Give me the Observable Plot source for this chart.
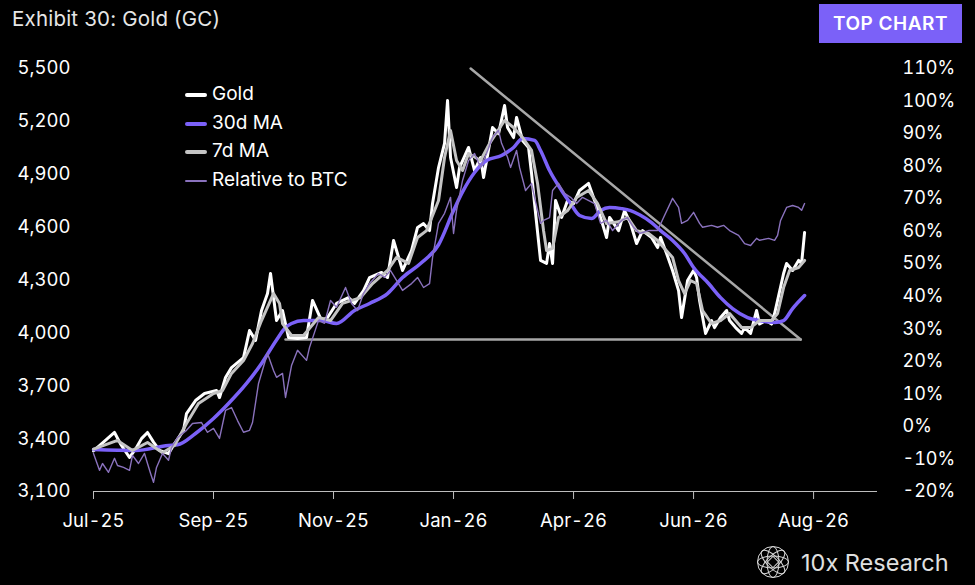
<!DOCTYPE html>
<html>
<head>
<meta charset="utf-8">
<script src="https://cdn.jsdelivr.net/npm/d3@7"></script>
<script src="https://cdn.jsdelivr.net/npm/@observablehq/plot@0.6"></script>
<style>
  html, body { margin: 0; padding: 0; background: #000; }
  #wrap { position: relative; width: 975px; height: 585px; background: #000; overflow: hidden; font-family: Inter, "Open Sans", sans-serif; color: #fff; }
  #wrap > svg { position: absolute; left: 0; top: 0; }
  .title { position: absolute; left: 12px; top: 6px; font-size: 20.5px; color: #e6e6e6; letter-spacing: 0.2px; }
  .badge { position: absolute; left: 819px; top: 4px; width: 143px; height: 39px; background: #7b61f8; color: #fff; font-size: 19px; font-weight: 600; line-height: 39px; text-align: center; letter-spacing: 0.5px; }
  .leg { position: absolute; left: 185px; font-size: 19px; color: #fff; height: 24px; line-height: 24px; white-space: nowrap; }
  .leg span.sw { display: inline-block; width: 22px; vertical-align: middle; margin-right: 5px; border-radius: 2px; }
  .logo { position: absolute; left: 756px; top: 545px; height: 34px; display: flex; align-items: center; color: #e0e0e0; font-size: 23.5px; }
  .logo svg { margin-right: 11px; }
</style>
</head>
<body>
<div id="wrap"></div>
<script>
// ---------- DATA ----------
const xTickDays = [0, 40, 80, 120, 160, 200, 240];
const xTickLabels = ["Jul-25", "Sep-25", "Nov-25", "Jan-26", "Apr-26", "Jun-26", "Aug-26"];
const leftTicks = [3100, 3400, 3700, 4000, 4300, 4600, 4900, 5200, 5500];
const rightTicks = [-20, -10, 0, 10, 20, 30, 40, 50, 60, 70, 80, 90, 100, 110];

const goldDay = [0,2,7,9,12,14,16,18,20,22,25,27,30,31,34,37,41,42,44,46,50,52,54,56,58,59,61,63,65,68,71,73,76,78,81,85,87,90,92,96,98,100,102,103,106,108,110,112,113,115,117,118,119,121,122,125,127,129,130,133,135,137,138,140,141,143,145,146,147,149,151,152,153,154,156,158,160,162,165,167,169,171,172,175,177,179,181,183,186,188,189,191,193,195,196,198,200,201,202,204,206,207,209,211,212,214,216,217,219,221,222,224,226,227,228,230,231,233,235,236,237];
const goldVal = [3330,3360,3435,3370,3293,3340,3400,3435,3380,3333,3315,3372,3446,3542,3616,3656,3673,3633,3747,3803,3860,4013,3957,4127,4223,4337,4070,4127,3974,3968,3974,4184,4070,4087,4167,4200,4167,4240,4314,4343,4314,4524,4411,4354,4467,4598,4620,4580,4734,4938,5075,5318,4995,4825,4938,5052,4921,4995,4882,5165,5130,5290,5165,5108,5222,5092,5052,4904,4734,4411,4394,4507,4394,4751,4655,4751,4734,4808,4848,4751,4655,4541,4655,4580,4694,4620,4507,4580,4541,4484,4541,4450,4354,4240,4087,4297,4354,4314,4184,3997,4070,4030,4087,4127,4070,4030,3997,4030,3997,4127,4050,4070,4050,4110,4184,4337,4394,4354,4411,4394,4570];

const ma7Day = [0,8,13,18,23,27,31,35,40,43,46,50,53,56,60,62,63,66,70,75,79,83,89,93,98,101,105,108,111,115,117,119,121,123,125,129,132,137,140,143,146,148,150,151,153,155,158,161,165,168,171,175,178,181,185,188,190,193,195,197,199,201,203,206,209,212,216,219,222,226,228,230,232,235,237];
const ma7Val = [3340,3390,3333,3378,3320,3361,3486,3599,3656,3673,3770,3843,3940,4070,4223,4167,4053,3985,3985,4087,4070,4167,4200,4280,4354,4428,4394,4541,4580,4751,4995,5148,4978,4921,5018,4978,5075,5205,5165,5108,5035,4848,4580,4467,4480,4655,4694,4768,4808,4734,4620,4630,4655,4580,4564,4524,4484,4428,4297,4223,4297,4280,4127,4053,4070,4110,4030,4030,4070,4070,4110,4257,4354,4371,4411];

const ma30Day = [0,14,25,28,34,40,45,51,56,61,64,66,70,76,81,87,92,98,103,109,115,120,123,127,131,136,140,143,147,149,152,156,159,162,166,169,172,176,179,182,186,189,193,197,200,205,209,213,218,222,227,230,233,237];
const ma30Val = [3338,3333,3361,3365,3429,3514,3599,3713,3826,3960,4030,4053,4070,4070,4053,4127,4167,4223,4314,4394,4500,4694,4800,4910,4978,5006,5052,5103,5092,5035,4921,4808,4734,4666,4649,4694,4711,4705,4694,4670,4626,4580,4524,4450,4371,4280,4200,4138,4087,4070,4059,4070,4138,4212];

// Relative to BTC, in percent (right axis)
const btcDay = [0,2,3,5,7,8,10,12,13,15,17,18,19,20,21,23,25,26,28,31,33,36,38,40,42,44,46,48,50,52,53,55,57,58,60,61,63,64,66,68,71,72,75,77,79,81,84,86,88,90,92,95,97,99,101,103,106,108,110,112,113,115,117,119,120,121,123,125,127,129,131,133,135,136,138,139,141,142,144,146,147,149,150,152,153,155,157,159,161,163,167,169,171,173,176,178,180,182,185,188,190,193,195,196,198,200,202,203,206,208,210,212,215,217,219,221,222,225,227,228,229,231,233,235,236,237];
const btcPct = [-8.3,-13.5,-11.4,-14.1,-9.8,-12.0,-12.6,-13.5,-8.9,-11.4,-8.3,-11.4,-14.4,-17.2,-12.6,-8.3,-10.4,-6.5,-3.4,-1.2,0.9,1.2,-1.8,-0.6,-3.7,4.9,5.8,1.8,-1.8,-1.2,1.2,13.2,19.4,22.4,17.2,15.1,16.3,8.9,18.7,23.4,20.3,24.3,32.6,31.7,38.7,36.6,42.7,37.8,35.6,40.9,43.9,47.0,45.8,47.9,44.9,41.8,43.9,45.8,42.7,43.9,51.9,62.4,65.5,70.4,59.3,66.4,75.6,81.7,83.9,79.6,83.9,88.8,91.0,87.0,82.7,79.6,84.8,79.6,72.5,74.7,70.4,62.4,63.3,64.2,72.5,74.7,71.6,70.4,68.5,70.4,68.5,62.4,63.3,60.2,63.3,64.2,61.2,59.3,60.2,60.2,64.2,70.1,67.3,62.4,63.3,65.8,62.4,61.2,61.8,61.2,61.8,60.2,58.7,56.2,55.6,57.8,57.2,57.8,57.2,58.7,63.3,67.3,67.9,67.3,66.4,68.5];

// Triangle trend lines (annotation endpoints: day, gold level)
const trendDownDay = [125.7, 235.7];
const trendDownVal = [5500, 3962];
const supportDay = [64, 235.7];
const supportVal = [3962, 3962];

const seriesNames = ["Gold", "30d MA", "7d MA", "Relative to BTC"];
const seriesColors = ["#ffffff", "#7b61f8", "#c4c4c4", "#8a72bd"];

// ---------- SCALE HELPERS ----------
const yMin = 3100, yMax = 5500, pMin = -20, pMax = 110;
const pctToGold = p => yMin + (p - pMin) * (yMax - yMin) / (pMax - pMin);
const goldToPct = g => pMin + (g - yMin) * (pMax - pMin) / (yMax - yMin);

const zip = (ds, vs) => ds.map((d, i) => ({d, v: vs[i]}));
const gold = zip(goldDay, goldVal);
const ma7 = zip(ma7Day, ma7Val);
const ma30 = zip(ma30Day, ma30Val);
const btc = btcDay.map((d, i) => ({d, v: pctToGold(btcPct[i])}));
const trendDown = zip(trendDownDay, trendDownVal);
const support = zip(supportDay, supportVal);
const labelOf = new Map(xTickDays.map((d, i) => [d, xTickLabels[i]]));

const chart = Plot.plot({
  width: 975,
  height: 585,
  marginLeft: 93,
  marginRight: 98,
  marginTop: 68,
  marginBottom: 94,
  style: {background: "#000", color: "#fff", fontFamily: "Inter, 'Open Sans', sans-serif", fontSize: "18px"},
  x: {domain: [0, 261.3], axis: null},
  y: {domain: [yMin, yMax], axis: null},
  marks: [
    Plot.axisY({ticks: leftTicks, tickFormat: d3.format(","), tickSize: 0, tickPadding: 23, fontSize: 18.5, fill: "#fff", label: null}),
    Plot.axisY({anchor: "right", ticks: rightTicks.map(pctToGold), tickFormat: g => Math.round(goldToPct(g)) + "%", tickSize: 0, tickPadding: 25, textAnchor: "start", fontSize: 18, fill: "#fff", label: null}),
    Plot.ruleY([yMin], {stroke: "#bdbdbd", strokeWidth: 1.2}),
    Plot.axisX({ticks: xTickDays, tickFormat: d => labelOf.get(d), tickSize: 8, tickPadding: 14, stroke: "#bdbdbd", fontSize: 18.5, fill: "#fff", label: null}),
    Plot.line(trendDown, {x: "d", y: "v", stroke: "#a8a8a8", strokeWidth: 2.5}),
    Plot.line(support, {x: "d", y: "v", stroke: "#a8a8a8", strokeWidth: 2.5}),
    Plot.line(gold, {x: "d", y: "v", stroke: seriesColors[0], strokeWidth: 3, strokeLinejoin: "round"}),
    Plot.line(ma30, {x: "d", y: "v", stroke: seriesColors[1], strokeWidth: 3.5, curve: "monotone-x"}),
    Plot.line(ma7, {x: "d", y: "v", stroke: seriesColors[2], strokeWidth: 3, strokeLinejoin: "round"}),
    Plot.line(btc, {x: "d", y: "v", stroke: seriesColors[3], strokeWidth: 1.4})
  ]
});

const wrap = document.getElementById("wrap");
wrap.appendChild(chart);

// Title & badge
const t = document.createElement("div"); t.className = "title"; t.textContent = "Exhibit 30: Gold (GC)"; wrap.appendChild(t);
const b = document.createElement("div"); b.className = "badge"; b.textContent = "TOP CHART"; wrap.appendChild(b);

// Legend
const legTops = [82, 111, 139, 168];
const legThick = [4, 4, 4, 2];
seriesNames.forEach((name, i) => {
  const el = document.createElement("div");
  el.className = "leg";
  el.style.top = legTops[i] + "px";
  el.innerHTML = `<span class="sw" style="height:${legThick[i]}px;background:${seriesColors[i]}"></span>${name}`;
  wrap.appendChild(el);
});

// Logo
const logo = document.createElement("div");
logo.className = "logo";
logo.innerHTML = `<svg width="34" height="34" viewBox="-17 -17 34 34">
  <g fill="none" stroke="#d8d8d8" stroke-width="1">
    <circle r="15.5"/>
    <ellipse rx="15.5" ry="6" transform="rotate(45)"/>
    <ellipse rx="15.5" ry="6" transform="rotate(-45)"/>
    <ellipse rx="15.5" ry="6"/>
    <ellipse rx="6" ry="15.5"/>
    <rect x="-4" y="-4" width="8" height="8" transform="rotate(45)"/>
  </g></svg><span>10x Research</span>`;
wrap.appendChild(logo);
</script>
</body>
</html>
